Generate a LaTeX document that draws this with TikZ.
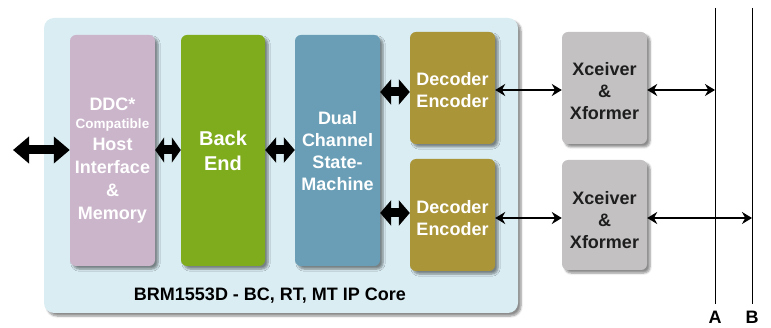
\documentclass[tikz,border=0pt]{standalone}
\usepackage{fontspec}
\setmainfont{Liberation Sans}
\usetikzlibrary{arrows.meta,shadows.blur,calc}
\definecolor{panelc}{HTML}{DAEDF3}
\definecolor{pinkc}{HTML}{CBB5CB}
\definecolor{greenc}{HTML}{7FAC1C}
\definecolor{bluec}{HTML}{699EB6}
\definecolor{goldc}{HTML}{AA9538}
\definecolor{greyc}{HTML}{C3C1C1}
\definecolor{darktxt}{HTML}{1E1E1E}
\tikzset{
  blk/.style={rounded corners=6pt, minimum width=85pt, inner sep=0pt,
    blur shadow={shadow xshift=3pt, shadow yshift=-3pt, shadow blur steps=6, shadow opacity=45}},
  wtxt/.style={text=white, font=\bfseries\fontsize{18}{22}\selectfont, align=center, inner sep=0pt},
  dtxt/.style={wtxt, text=darktxt},
  thin/.style={line width=2.4pt, {Stealth[length=10pt,width=12pt]}-{Stealth[length=10pt,width=12pt]}},
  bus/.style={line width=0.9pt},
  lbl/.style={font=\bfseries\fontsize{18}{20}\selectfont, inner sep=0pt, anchor=base}
}
\begin{document}
\begin{tikzpicture}[x=1pt,y=-1pt]
\useasboundingbox (0,0) rectangle (771,328);
% panel
\node[rounded corners=10pt, fill=panelc, minimum width=474pt, minimum height=295pt, inner sep=0pt,
  blur shadow={shadow xshift=3pt, shadow yshift=-3pt, shadow blur steps=6, shadow opacity=45}] (panel) at (281,165.5) {};
\node[font=\bfseries\fontsize{18}{20}\selectfont, inner sep=0pt] (cap) at (270,296) {BRM1553D - BC, RT, MT IP Core};
% blocks
\node[blk, fill=pinkc, minimum height=231pt] (host) at (112.5,150.5) {};
\node[wtxt] (hosttxt) at ([yshift=-10pt]host.center) {DDC*\\[-4pt]{\fontsize{13.5}{15}\selectfont Compatible}\\[0pt]Host\\[1pt]Interface\\[1pt]\&\\[1pt]Memory};
\node[blk, fill=greenc, minimum width=84pt, minimum height=231pt] (back) at (223,150.5) {};
\node[wtxt, font=\bfseries\fontsize{20}{25}\selectfont] (backtxt) at (back.center) {Back\\End};
\node[blk, fill=bluec, minimum height=231pt] (sm) at (337.5,150.5) {};
\node[wtxt] (smtxt) at ([yshift=-1pt]sm.center) {Dual\\Channel\\State-\\Machine};
\node[blk, fill=goldc, minimum height=112pt] (dec1) at (452.5,88) {};
\node[wtxt] (dec1txt) at ([yshift=-2pt]dec1.center) {Decoder\\Encoder};
\node[blk, fill=goldc, minimum height=112pt] (dec2) at (452.5,215) {};
\node[wtxt] (dec2txt) at ([yshift=-3pt]dec2.center) {Decoder\\Encoder};
\node[blk, fill=greyc, minimum height=112pt] (xc1) at (604.5,88) {};
\node[dtxt] (xc1txt) at ([yshift=-3pt]xc1.center) {Xceiver\\\&\\Xformer};
\node[blk, fill=greyc, minimum height=110pt] (xc2) at (604.5,215) {};
\node[dtxt] (xc2txt) at ([yshift=-5pt]xc2.center) {Xceiver\\\&\\Xformer};
% buses
\node[lbl] (labA) at (715,324) {A};
\node[lbl] (labB) at (752,324) {B};
\coordinate (topA) at (715,8);
\coordinate (topB) at (752,8);
\draw[bus] (topA) -- ([yshift=7pt]labA.north);
\draw[bus] (topB) -- ([yshift=7pt]labB.north);
% fat arrows
\coordinate (ext) at (13,150);
\draw[line width=9pt, {Triangle[length=16pt,width=26pt]}-{Triangle[length=16pt,width=26pt]}] (ext) -- (ext -| host.west);
\draw[line width=9pt, {Triangle[length=9pt,width=25pt]}-{Triangle[length=9pt,width=25pt]}] (host.east |- ext) -- (back.west |- ext);
\draw[line width=9pt, {Triangle[length=11pt,width=25pt]}-{Triangle[length=11pt,width=25pt]}] (back.east |- ext) -- (sm.west |- ext);
\draw[line width=9pt, {Triangle[length=11pt,width=25pt]}-{Triangle[length=11pt,width=25pt]}] ([yshift=-4pt]sm.east |- dec1.west) -- ([yshift=-4pt]dec1.west);
\draw[line width=9pt, {Triangle[length=11pt,width=25pt]}-{Triangle[length=11pt,width=25pt]}] ([yshift=2pt]sm.east |- dec2.west) -- ([yshift=2pt]dec2.west);
% thin arrows
\draw[thin] ([yshift=-2pt]dec1.east) -- ([yshift=-2pt]xc1.west);
\draw[thin] ([yshift=-3pt]dec2.east) -- ([yshift=-3pt]xc2.west);
\draw[thin] ([yshift=-2pt]xc1.east) -- ([yshift=-2pt]xc1.east -| labA);
\draw[thin] ([yshift=-3pt]xc2.east) -- ([yshift=-3pt]xc2.east -| labB);
\end{tikzpicture}
\end{document}
